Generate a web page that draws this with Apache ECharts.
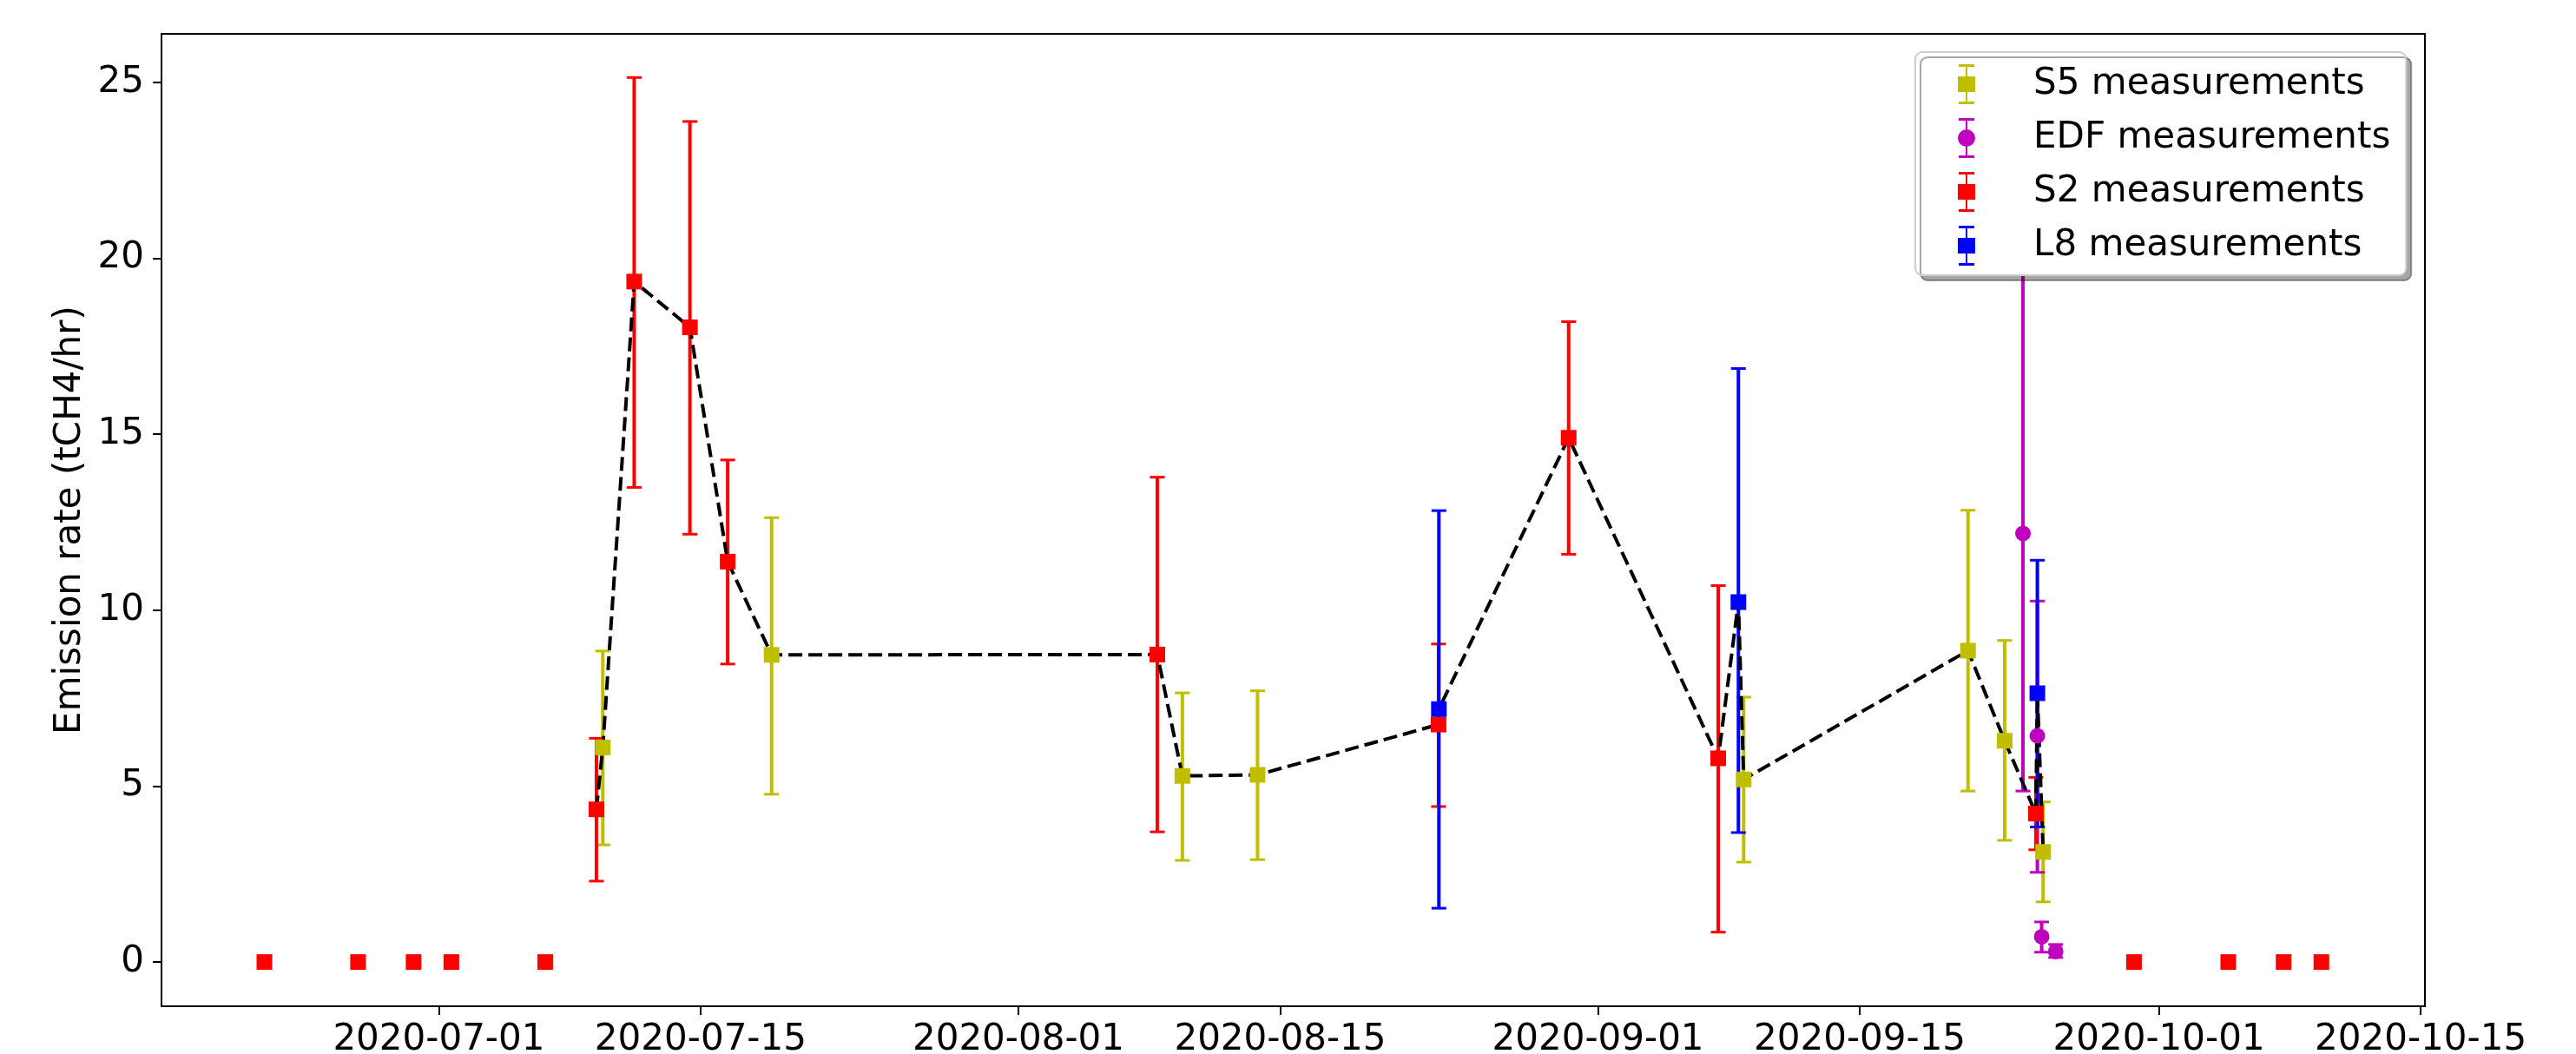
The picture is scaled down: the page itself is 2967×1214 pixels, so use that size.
<!DOCTYPE html>
<html><head><meta charset="utf-8">
<script src="https://cdn.jsdelivr.net/npm/echarts@6/dist/echarts.min.js"></script>
<style>html,body{margin:0;padding:0;background:#fff}#c{width:2967px;height:1214px}</style>
</head><body><div id="c"></div>
<script>
// ---------- data ----------
const s5Dates  = ['2020-07-09 18:29','2020-07-18 19:12','2020-08-09 18:29','2020-08-13 18:58','2020-09-08 18:58','2020-09-20 18:58','2020-09-22 18:00','2020-09-24 19:26'];
const s5Values = [6.10, 8.73, 5.29, 5.32, 5.19, 8.85, 6.29, 3.13];
const s5Low    = [3.33, 4.77, 2.89, 2.91, 2.84, 4.86, 3.46, 1.71];
const s5High   = [8.84, 12.63, 7.65, 7.71, 7.53, 12.84, 9.14, 4.55];

const edfDates  = ['2020-09-23 17:31','2020-09-24 12:00','2020-09-24 17:31','2020-09-25 11:31'];
const edfValues = [12.18, 6.43, 0.72, 0.30];
const edfLow    = [4.86, 2.55, 0.28, 0.13];
const edfHigh   = [20.2, 10.26, 1.14, 0.50];

const s2Dates  = ['2020-06-21 16:05','2020-06-26 16:19','2020-06-29 15:36','2020-07-01 16:05','2020-07-06 16:34',
                  '2020-07-09 10:19','2020-07-11 10:48','2020-07-14 10:19','2020-07-16 10:48','2020-08-08 10:19',
                  '2020-08-23 11:17','2020-08-30 10:19','2020-09-07 10:19','2020-09-24 10:05',
                  '2020-09-29 16:05','2020-10-04 17:02','2020-10-07 16:05','2020-10-09 16:34'];
const s2Values = [0, 0, 0, 0, 0, 4.34, 19.34, 18.04, 11.38, 8.74, 6.75, 14.90, 5.79, 4.22, 0, 0, 0, 0];
const s2Low    = [0, 0, 0, 0, 0, 2.30, 13.49, 12.16, 8.47, 3.70, 4.42, 11.59, 0.85, 3.19, 0, 0, 0, 0];
const s2High   = [0, 0, 0, 0, 0, 6.36, 25.14, 23.89, 14.27, 13.78, 9.04, 18.20, 10.70, 5.25, 0, 0, 0, 0];

const l8Dates  = ['2020-08-23 11:46','2020-09-08 12:14','2020-09-24 12:00'];
const l8Values = [7.19, 10.23, 7.64];
const l8Low    = [1.53, 3.68, 3.84];
const l8High   = [12.83, 16.87, 11.42];

const xTickLabels = ['2020-07-01','2020-07-15','2020-08-01','2020-08-15','2020-09-01','2020-09-15','2020-10-01','2020-10-15'];
const yTicks = [0, 5, 10, 15, 20, 25];

const seriesNames = ['S5 measurements','EDF measurements','S2 measurements','L8 measurements'];
const yAxisTitle = 'Emission rate (tCH4/hr)';

// ---------- helpers ----------
function toDay(s) {
  const [d, t] = s.split(' ');
  const [Y, M, D] = d.split('-').map(Number);
  const [h, m] = (t || '00:00').split(':').map(Number);
  return Date.UTC(Y, M - 1, D, h, m) / 86400000;
}
const FONT = 'DejaVu Sans';
const COL = { s5: '#bfbf00', edf: '#bf00bf', s2: '#ff0000', l8: '#0000ff' };

function pts(dates, vals) { return dates.map((d, i) => [toDay(d), vals[i]]); }
function errs(dates, lo, hi) {
  const out = [];
  dates.forEach((d, i) => { if (hi[i] !== lo[i]) out.push([toDay(d), lo[i], hi[i]]); });
  return out;
}
function errRender(color) {
  return function (params, api) {
    const x = api.value(0), lo = api.value(1), hi = api.value(2);
    const a = api.coord([x, lo]), b = api.coord([x, hi]);
    const cw = 8.5;
    return { type: 'group', children: [
      { type: 'line', shape: { x1: a[0], y1: a[1], x2: b[0], y2: b[1] }, style: { stroke: color, lineWidth: 4 } },
      { type: 'line', shape: { x1: a[0] - cw, y1: a[1], x2: a[0] + cw, y2: a[1] }, style: { stroke: color, lineWidth: 3 } },
      { type: 'line', shape: { x1: b[0] - cw, y1: b[1], x2: b[0] + cw, y2: b[1] }, style: { stroke: color, lineWidth: 3 } }
    ]};
  };
}

// dashed line through satellite (S2, S5, L8) non-zero measurements, in time order
const linePts = []
  .concat(pts(s2Dates, s2Values), pts(s5Dates, s5Values), pts(l8Dates, l8Values))
  .filter(p => p[1] > 0)
  .sort((a, b) => a[0] - b[0]);

const xTickVals = xTickLabels.map(toDay);
const xMin = toDay('2020-06-16 04:00');
const xMax = toDay('2020-10-15 05:30');

const sqIcon = 'path://M1,0H19V3H1Z M9,0H11V46H9Z M1,43H19V46H1Z M0,14H20V32H0Z';
const ciIcon = 'path://M1,0H19V3H1Z M9,0H11V46H9Z M1,43H19V46H1Z M10,13A10,10 0 1 1 10,33A10,10 0 1 1 10,13Z';

function errSeries(name, data, color) {
  return { type: 'custom', name: name + ' err', data: data, renderItem: errRender(color),
           encode: { x: 0, y: [1, 2] }, z: 1, silent: true, clip: true };
}
function markSeries(name, data, color, symbol) {
  return { type: 'scatter', name: name, data: data, symbol: symbol, symbolSize: 18,
           itemStyle: { color: color, opacity: 1 }, z: 3, silent: true };
}

const chart = echarts.init(document.getElementById('c'), null, { renderer: 'canvas' });
chart.setOption({
  animation: false,
  backgroundColor: '#fff',
  textStyle: { fontFamily: FONT },
  grid: { left: 186, right: 174, top: 39, bottom: 55, show: true, borderColor: '#000', borderWidth: 2,
          containLabel: false, outerBoundsMode: 'none' },
  xAxis: {
    type: 'value', min: xMin, max: xMax,
    axisLine: { show: true, onZero: false, lineStyle: { color: '#000', width: 2 } },
    axisTick: { show: true, length: 10, lineStyle: { color: '#000', width: 2 }, customValues: xTickVals },
    axisLabel: { show: true, customValues: xTickVals, fontSize: 42, fontFamily: FONT, color: '#000', margin: 18,
                 hideOverlap: false,
                 formatter: v => { const i = xTickVals.findIndex(t => Math.abs(t - v) < 1e-6); return i >= 0 ? xTickLabels[i] : ''; } },
    splitLine: { show: false }
  },
  yAxis: {
    type: 'value', min: -1.256, max: 26.38,
    name: yAxisTitle, nameLocation: 'middle', nameGap: 82,
    nameTextStyle: { fontSize: 42, fontFamily: FONT, color: '#000' },
    axisLine: { show: true, onZero: false, lineStyle: { color: '#000', width: 2 } },
    axisTick: { show: true, length: 10, lineStyle: { color: '#000', width: 2 }, customValues: yTicks },
    axisLabel: { show: true, customValues: yTicks, fontSize: 42, fontFamily: FONT, color: '#000', margin: 20 },
    splitLine: { show: false }
  },
  legend: {
    data: [
      { name: seriesNames[0], icon: sqIcon },
      { name: seriesNames[1], icon: ciIcon },
      { name: seriesNames[2], icon: sqIcon },
      { name: seriesNames[3], icon: sqIcon }
    ],
    orient: 'vertical', left: 2206, top: 60,
    padding: [14, 18, 11, 49],
    itemWidth: 20, itemHeight: 46, itemGap: 16,
    formatter: name => '{g| }{t|' + name + '}',
    textStyle: { fontFamily: FONT, fontSize: 42, color: '#000', lineHeight: 46,
                 rich: { g: { width: 62, fontSize: 42, fontFamily: FONT }, t: { fontSize: 42, fontFamily: FONT, color: '#000', lineHeight: 46 } } },
    backgroundColor: '#ffffff', borderColor: '#cccccc', borderWidth: 2, borderRadius: 8,
    shadowColor: 'rgba(0,0,0,0.35)', shadowOffsetX: 6, shadowOffsetY: 6, shadowBlur: 0,
    selectedMode: false, z: 10
  },
  series: [
    errSeries(seriesNames[0], errs(s5Dates, s5Low, s5High), COL.s5),
    errSeries(seriesNames[1], errs(edfDates, edfLow, edfHigh), COL.edf),
    errSeries(seriesNames[2], errs(s2Dates, s2Low, s2High), COL.s2),
    errSeries(seriesNames[3], errs(l8Dates, l8Low, l8High), COL.l8),
    { type: 'line', name: 'trend', data: linePts, symbol: 'none', z: 2, silent: true,
      lineStyle: { color: '#000', width: 4, type: [16, 7] } },
    markSeries(seriesNames[0], pts(s5Dates, s5Values), COL.s5, 'rect'),
    markSeries(seriesNames[1], pts(edfDates, edfValues), COL.edf, 'circle'),
    markSeries(seriesNames[2], pts(s2Dates, s2Values), COL.s2, 'rect'),
    markSeries(seriesNames[3], pts(l8Dates, l8Values), COL.l8, 'rect')
  ]
});
</script>
</body></html>
